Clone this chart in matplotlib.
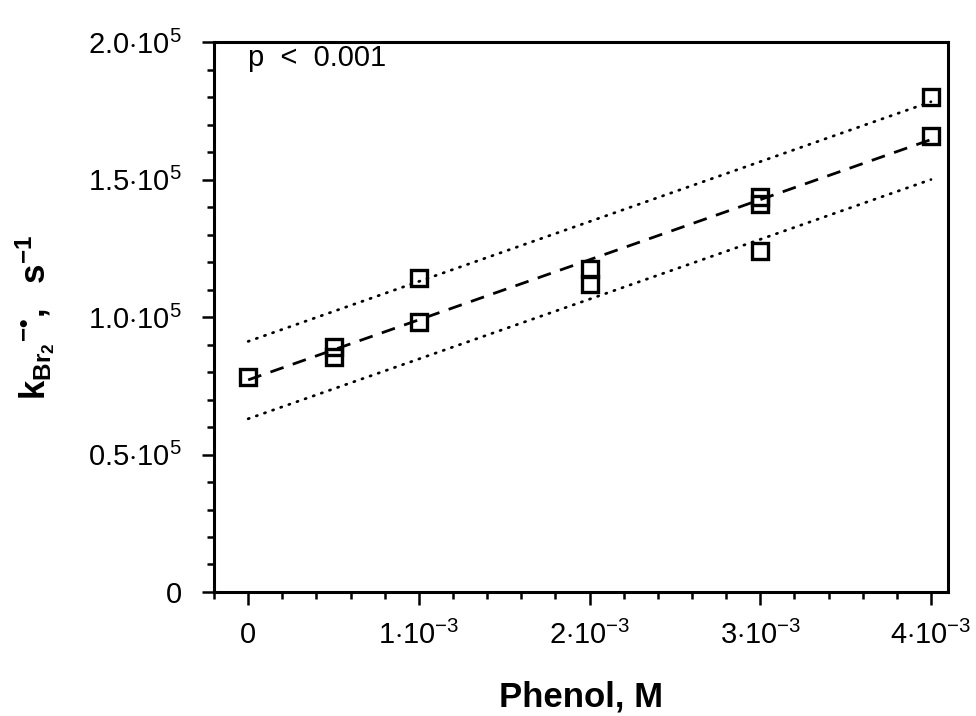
import numpy as np
import matplotlib
matplotlib.use('Agg')
import matplotlib.pyplot as plt
from matplotlib.ticker import MultipleLocator, FixedLocator

plt.rcParams['font.family'] = 'Liberation Sans'
plt.rcParams['mathtext.fontset'] = 'custom'
plt.rcParams['mathtext.rm'] = 'Liberation Sans'
plt.rcParams['mathtext.it'] = 'Liberation Sans'
plt.rcParams['mathtext.bf'] = 'Liberation Sans:bold'

# phenol concentration (M) and k (s^-1)
phenol = [0, 0.0005, 0.0005, 0.001, 0.001, 0.002, 0.002, 0.003, 0.003, 0.003, 0.004, 0.004]
k_br2 = [78300, 89200, 85500, 114300, 98300, 117300, 112200, 143800, 141000, 124200, 180000, 166000]

# dotted bands (read at the ends of the fit range)
band_x = [0, 0.004]
band_upper = [91150, 178300]
band_lower = [63000, 150000]

x_ticks = [0, 0.001, 0.002, 0.003, 0.004]
x_ticklabels = ['0', r'$1{\cdot}10^{-3}$', r'$2{\cdot}10^{-3}$', r'$3{\cdot}10^{-3}$', r'$4{\cdot}10^{-3}$']
y_ticks = [0, 50000, 100000, 150000, 200000]
y_ticklabels = ['0', r'$0.5{\cdot}10^{5}$', r'$1.0{\cdot}10^{5}$', r'$1.5{\cdot}10^{5}$', r'$2.0{\cdot}10^{5}$']

fig = plt.figure(figsize=(9.76, 7.16), dpi=100)
ax = fig.add_axes([0.2193, 0.1732, 0.752, 0.768])

# linear fit
slope, intercept = np.polyfit(phenol, k_br2, 1)
xfit = np.array([min(phenol), max(phenol)])
ax.plot(xfit, slope*xfit + intercept, color='k', lw=2.0, dashes=(5, 3.5), zorder=2)
ax.plot(band_x, band_upper, color='k', lw=2.0, linestyle=(0, (0.4, 2.7)), dash_capstyle='round', zorder=2)
ax.plot(band_x, band_lower, color='k', lw=2.0, linestyle=(0, (0.4, 2.7)), dash_capstyle='round', zorder=2)

ax.plot(phenol, k_br2, linestyle='none', marker='s', markersize=11.5, markerfacecolor='none',
        markeredgecolor='k', markeredgewidth=2.4, zorder=3)

ax.set_xlim(-0.0002, 0.0041)
ax.set_ylim(0, 200000)

ax.xaxis.set_major_locator(FixedLocator(x_ticks))
ax.set_xticklabels(x_ticklabels)
ax.xaxis.set_minor_locator(MultipleLocator(0.0002))
ax.yaxis.set_major_locator(FixedLocator(y_ticks))
ax.set_yticklabels(y_ticklabels)
ax.yaxis.set_minor_locator(MultipleLocator(10000))

ax.tick_params(axis='both', which='both', direction='out', top=False, right=False, width=1.8)
ax.tick_params(axis='both', which='major', length=9, labelsize=21)
ax.tick_params(axis='x', which='major', pad=12)
ax.tick_params(axis='y', which='major', pad=14)
ax.tick_params(axis='both', which='minor', length=5)
for sp in ax.spines.values():
    sp.set_linewidth(2.2)

ax.set_xlabel('Phenol, M', fontsize=25, fontweight='bold', labelpad=22)
ax.set_ylabel(r'$\mathbf{k}_{\mathbf{Br_2}}{}^{\mathbf{-•}}\mathbf{,\ \ s^{-1}}$',
              fontsize=25, fontweight='bold', labelpad=22)

ax.text(0.0, 191300, r'p  <  0.001', fontsize=21, ha='left', va='baseline')

plt.savefig('out.png', dpi=100)
